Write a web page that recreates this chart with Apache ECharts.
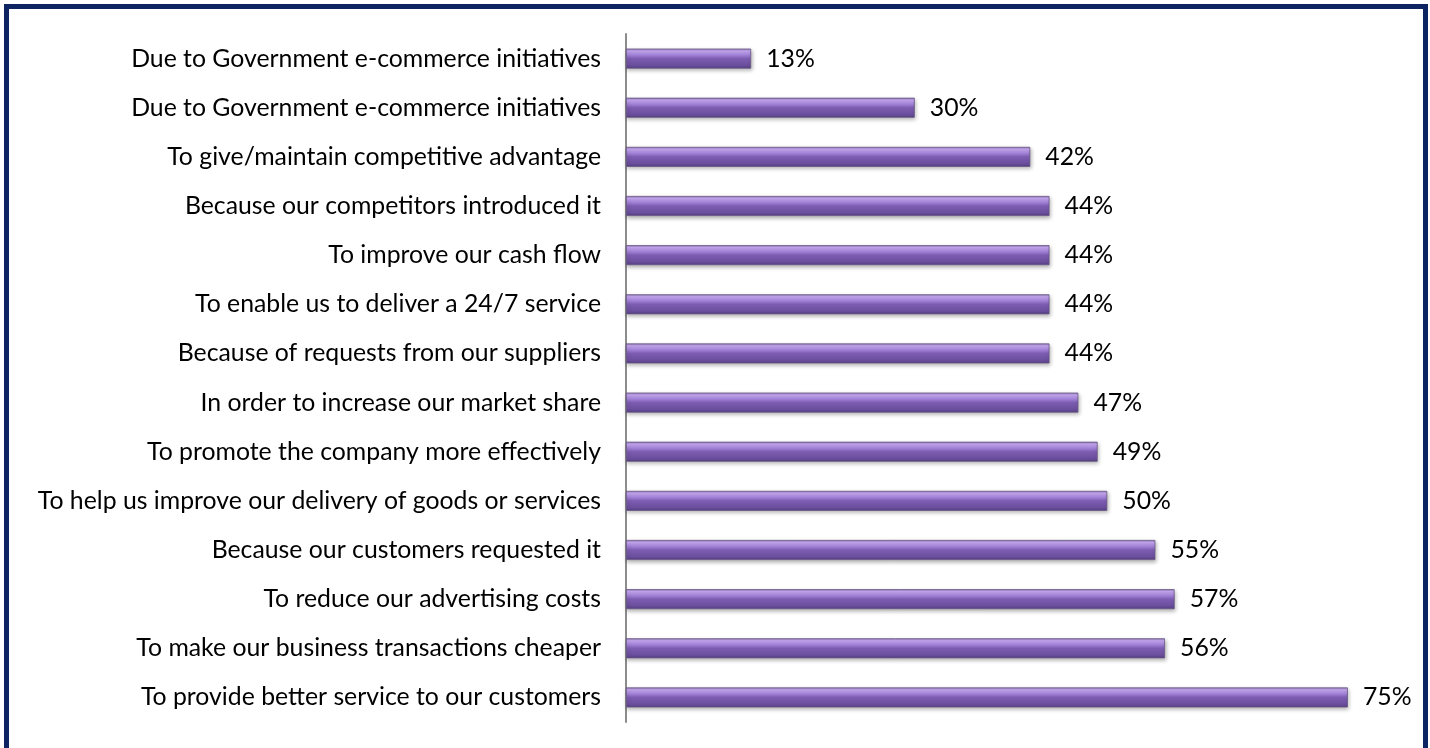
<!DOCTYPE html>
<html>
<head>
<meta charset="utf-8">
<script src="https://cdn.jsdelivr.net/npm/echarts@6/dist/echarts.min.js"></script>
<style>
  html, body { margin: 0; padding: 0; background: #fff; overflow: hidden; }
  #frame {
    position: absolute; left: 4px; top: 4px; width: 1414px; height: 760px;
    border: 5px solid #0c2462; background: #fff;
  }
  #chart { position: absolute; left: 0; top: 0; width: 1430px; height: 748px; }
</style>
</head>
<body>
<div id="frame"></div>
<div id="chart"></div>
<script>
// Reasons for adopting e-commerce, top to bottom
const categories = [
  'Due to Government e-commerce initiatives',
  'Due to Government e-commerce initiatives',
  'To give/maintain competitive advantage',
  'Because our competitors introduced it',
  'To improve our cash flow',
  'To enable us to deliver a 24/7 service',
  'Because of requests from our suppliers',
  'In order to increase our market share',
  'To promote the company more effectively',
  'To help us improve our delivery of goods or services',
  'Because our customers requested it',
  'To reduce our advertising costs',
  'To make our business transactions cheaper',
  'To provide better service to our customers'
];
const percentages = [13, 30, 42, 44, 44, 44, 44, 47, 49, 50, 55, 57, 56, 75];

const chart = echarts.init(document.getElementById('chart'));
// Two rows share a label, so the axis uses row indices and prints the names
const rowKeys = categories.map((_, i) => String(i));

chart.setOption({
  animation: false,
  textStyle: { fontFamily: 'Lato' },
  grid: { left: 626, top: 34, width: 770, height: 688, containLabel: false },
  xAxis: {
    type: 'value', min: 0, max: 80, show: false
  },
  yAxis: {
    type: 'category',
    inverse: true,
    data: rowKeys,
    axisLine: { show: true, lineStyle: { color: '#8c8c8c', width: 2 } },
    axisTick: { show: false },
    axisLabel: {
      margin: 25,
      fontSize: 24.8,
      color: '#000',
      fontFamily: 'Lato',
      formatter: v => categories[Number(v)]
    }
  },
  series: [{
    type: 'bar',
    data: percentages,
    barWidth: 20,
    itemStyle: {
      color: new echarts.graphic.LinearGradient(0, 0, 0, 1, [
        { offset: 0, color: '#8e76b4' },
        { offset: 0.12, color: '#c6a8f2' },
        { offset: 0.3, color: '#a787dc' },
        { offset: 0.5, color: '#7d5db2' },
        { offset: 0.85, color: '#6a4e9c' },
        { offset: 1, color: '#553e82' }
      ]),
      borderColor: '#685784',
      borderWidth: 0.8,
      shadowColor: 'rgba(0,0,0,0.3)',
      shadowBlur: 4,
      shadowOffsetY: 2,
      shadowOffsetX: 1
    },
    label: {
      show: true,
      position: 'right',
      distance: 15,
      fontSize: 24.8,
      color: '#000',
      fontFamily: 'Lato',
      formatter: p => p.value + '%'
    }
  }]
});
</script>
</body>
</html>
